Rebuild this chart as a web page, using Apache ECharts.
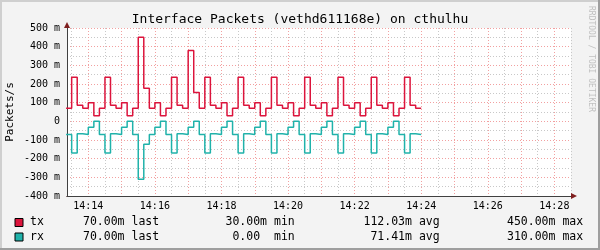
<!DOCTYPE html>
<html><head><meta charset="utf-8">
<script src="https://cdn.jsdelivr.net/npm/echarts@6/dist/echarts.min.js"></script>
<style>html,body{margin:0;padding:0;background:#f3f3f3}#c{width:600px;height:250px}</style>
</head><body><div id="c"></div>
<script>
// ---- chart text ----
const chartTitle = 'Interface Packets (vethd611168e) on cthulhu';
const yAxisTitle = 'Packets/s';
const watermark = 'RRDTOOL / TOBI OETIKER';

// ---- time axis (minutes relative to baseTime) ----
const baseTime = '14:14';
const axisStart = '14:13:21.6';
const axisEnd = '14:28:30';
const firstSample = '14:13:20';
const stepSeconds = 10;

// ---- y axis (values in milli-packets/s) ----
const yMin = -400;
const yMax = 500;

// ---- series values (m = 1/1000 packets/s), one value per 10 s step ----
const seriesNames = ['tx', 'rx'];
const txValues = [70,
  236, 86, 70, 100, 30, 70,
  236, 86, 70, 100, 30, 70,
  450, 177, 70, 100, 30, 70,
  236, 86, 70, 380, 155, 70,
  236, 86, 70, 100, 30, 70,
  236, 86, 70, 100, 30, 70,
  236, 86, 70, 100, 30, 70,
  236, 86, 70, 100, 30, 70,
  236, 86, 70, 100, 30, 70,
  236, 86, 70, 100, 30, 70,
  236, 86, 70];
const rxValues = [70,
  170, 66, 70, 32, 0, 70,
  170, 66, 70, 32, 0, 70,
  310, 123, 70, 32, 0, 70,
  170, 66, 70, 32, 0, 70,
  170, 66, 70, 32, 0, 70,
  170, 66, 70, 32, 0, 70,
  170, 66, 70, 32, 0, 70,
  170, 66, 70, 32, 0, 70,
  170, 66, 70, 32, 0, 70,
  170, 66, 70, 32, 0, 70,
  170, 66, 70];

// ---- legend statistics ----
const statLast = ['70.00m', '70.00m'];
const statMin = ['30.00m', ' 0.00 '];
const statAvg = ['112.03m', ' 71.41m'];
const statMax = ['450.00m', '310.00m'];

// ---- style ----
const FONT = 'DejaVu Sans Mono';
const colors = ['#dc143c', '#20b2aa'];
const minorGrid = '#c8c8c8';
const majorGrid = '#f2a0a0';
const axisColor = '#404040';
const arrowColor = '#7f1f1f';

function toMin(t) {
  const p = t.split(':').map(Number);
  const b = baseTime.split(':').map(Number);
  return (p[0] * 60 + p[1] + (p[2] || 0) / 60) - (b[0] * 60 + b[1]);
}
const xMin = toMin(axisStart), xMax = toMin(axisEnd), x0 = toMin(firstSample);
function pts(values, sign) {
  const d = values.map((v, i) => [x0 + i * stepSeconds / 60, sign * v]);
  d.push([x0 + values.length * stepSeconds / 60, sign * values[values.length - 1]]);
  return d;
}
function fmtTime(v) {
  const b = baseTime.split(':').map(Number);
  const t = Math.round(b[0] * 60 + b[1] + v);
  return String(Math.floor(t / 60)).padStart(2, '0') + ':' + String(t % 60).padStart(2, '0');
}

const hidden = { show: false };
function xAx(iv, extra) {
  return Object.assign({
    type: 'value', position: 'bottom', min: xMin, max: xMax,
    minInterval: iv, maxInterval: iv, splitNumber: Math.round((xMax - xMin) / iv),
    axisLine: { show: false, onZero: false }, axisTick: hidden, axisLabel: hidden, splitLine: hidden
  }, extra);
}
const chart = echarts.init(document.getElementById('c'), null, { renderer: 'canvas' });
const legendG = [];
seriesNames.forEach((n, i) => {
  const y = 222.5 + i * 14.5;
  legendG.push({ type: 'rect', shape: { x: 15, y: y - 4, width: 8, height: 8 }, style: { fill: colors[i], stroke: '#000', lineWidth: 1 } });
  const cols = [[30, n], [83, statLast[i] + ' last'], [225.5, statMin[i] + ' min'], [363.5, statAvg[i] + ' avg'], [507, statMax[i] + ' max']];
  cols.forEach(c => legendG.push({ type: 'text', x: c[0], y: y, style: { text: c[1], fontFamily: FONT, fontSize: 11.5, fill: '#000', textVerticalAlign: 'middle', textAlign: 'left' } }));
});

chart.setOption({
  animation: false,
  backgroundColor: '#f3f3f3',
  grid: { left: 67, right: 29, top: 28, bottom: 54, show: true, backgroundColor: '#ffffff', borderWidth: 0, containLabel: false, outerBoundsMode: 'none' },
  xAxis: [
    xAx(0.5, {
      axisLine: { show: true, onZero: false, symbol: ['none', 'triangle'], symbolSize: [6, 6], symbolOffset: [0, 3], lineStyle: { color: arrowColor, width: 1 } },
      splitLine: { show: true, showMinLine: false, lineStyle: { color: minorGrid, type: [1, 2], width: 1 } }
    }),
    xAx(1, { splitLine: { show: true, showMinLine: false, showMaxLine: false, lineStyle: { color: majorGrid, type: [1, 2], width: 1 } } }),
    xAx(2, {
      axisLine: { show: true, onZero: false, lineStyle: { color: axisColor, width: 1 } },
      axisLabel: { show: true, showMinLabel: false, showMaxLabel: false, margin: 5, fontFamily: FONT, fontSize: 10, color: '#000', formatter: fmtTime }
    })
  ],
  yAxis: [
    { type: 'value', position: 'left', min: yMin, max: yMax, interval: 50,
      axisLine: { show: true, onZero: false, symbol: ['none', 'triangle'], symbolSize: [6, 6], symbolOffset: [0, 3], lineStyle: { color: arrowColor, width: 1 } },
      axisTick: hidden, axisLabel: hidden,
      splitLine: { show: true, showMinLine: false, lineStyle: { color: minorGrid, type: [1, 2], width: 1 } } },
    { type: 'value', position: 'left', min: yMin, max: yMax, interval: 100,
      axisLine: { show: true, onZero: false, lineStyle: { color: axisColor, width: 1 } },
      axisTick: hidden,
      axisLabel: { show: true, margin: 7, fontFamily: FONT, fontSize: 10, color: '#000', formatter: v => v === 0 ? '0' : v + ' m' },
      splitLine: { show: true, showMinLine: false, lineStyle: { color: majorGrid, type: [1, 2], width: 1 } } }
  ],
  series: [
    { name: seriesNames[0], type: 'line', step: 'end', xAxisIndex: 0, yAxisIndex: 0, data: pts(txValues, 1), showSymbol: false, lineStyle: { color: colors[0], width: 1.5 }, z: 5 },
    { name: seriesNames[1], type: 'line', step: 'end', xAxisIndex: 0, yAxisIndex: 0, data: pts(rxValues, -1), showSymbol: false, lineStyle: { color: colors[1], width: 1.5 }, z: 5 }
  ],
  graphic: [
    { type: 'rect', shape: { x: 0, y: 0, width: 600, height: 2 }, style: { fill: '#cfcfcf' } },
    { type: 'rect', shape: { x: 0, y: 0, width: 2, height: 250 }, style: { fill: '#cfcfcf' } },
    { type: 'rect', shape: { x: 0, y: 248, width: 600, height: 2 }, style: { fill: '#9e9e9e' } },
    { type: 'rect', shape: { x: 598, y: 0, width: 2, height: 250 }, style: { fill: '#9e9e9e' } },
    { type: 'text', x: 300, y: 19.5, style: { text: chartTitle, fontFamily: FONT, fontSize: 13, fill: '#000', textAlign: 'center', textVerticalAlign: 'middle' } },
    { type: 'text', x: 10, y: 112, rotation: Math.PI / 2, style: { text: yAxisTitle, fontFamily: FONT, fontSize: 11, fill: '#000', textAlign: 'center', textVerticalAlign: 'middle' } },
    { type: 'text', x: 591, y: 6, rotation: -Math.PI / 2, style: { text: watermark, fontFamily: FONT, fontSize: 8, fill: '#c0c0c0', textAlign: 'left', textVerticalAlign: 'middle' } }
  ].concat(legendG)
});
</script></body></html>
